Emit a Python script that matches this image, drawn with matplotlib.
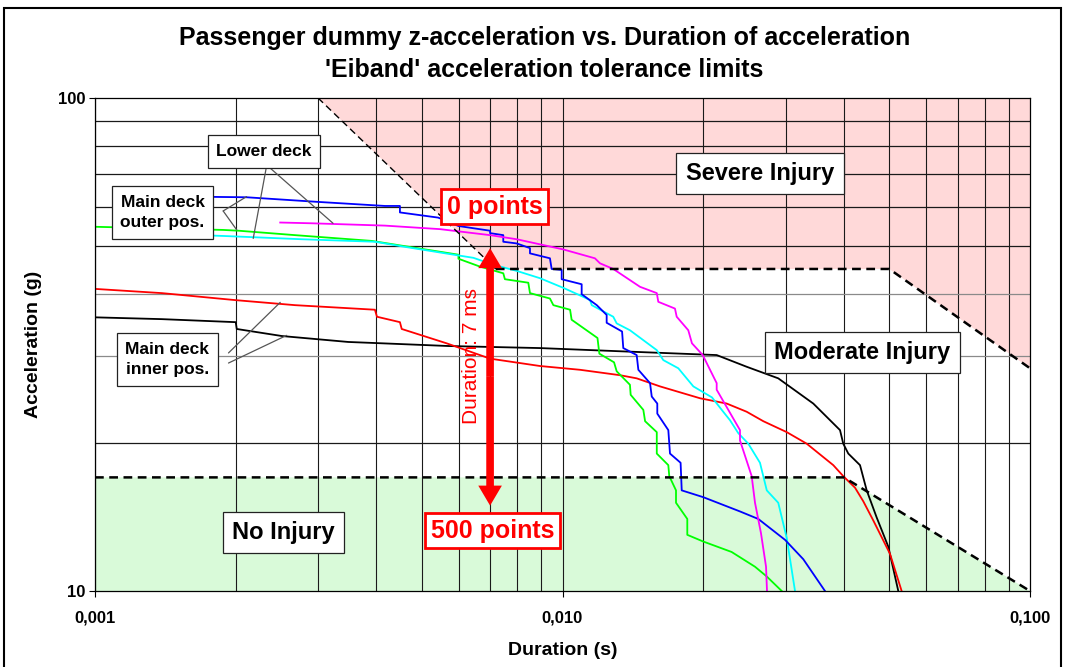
import numpy as np
import matplotlib
matplotlib.use('Agg')
import matplotlib.pyplot as plt
from matplotlib.ticker import NullLocator
from matplotlib.patches import Rectangle

plt.rcParams['font.family'] = ['Liberation Sans', 'DejaVu Sans']

# ---------------- data (duration in ms, acceleration in g) ----------------
blue_ms = [1.15, 2.11, 2.96, 4.17, 4.49, 4.49, 5.42, 5.99, 7.00, 7.00, 7.47, 7.47, 7.98, 8.52, 8.52,
           9.40, 9.48, 9.96, 9.96, 10.99, 10.99, 11.84, 12.43, 12.43, 13.41, 13.49, 14.41, 14.53,
           15.39, 15.52, 15.95, 15.95, 16.84, 16.98, 17.89, 17.99, 20.0, 23.97, 26.23, 29.92, 32.74, 36.43]
blue_g = [63.3, 62.9, 61.6, 60.4, 60.4, 58.6, 57.2, 55.0, 53.8, 53.2, 52.7, 51.1, 50.7, 49.6, 48.4,
          47.3, 45.0, 44.8, 42.9, 41.9, 40.0, 38.0, 36.3, 35.0, 33.6, 31.1, 30.1, 28.1,
          26.4, 24.8, 24.0, 22.9, 21.2, 19.0, 18.2, 16.0, 15.5, 14.5, 14.0, 12.7, 11.6, 10.0]

magenta_ms = [2.49, 2.91, 4.17, 5.47, 7.00, 7.98, 10.04, 11.73, 12.03, 12.84, 14.65, 15.91, 16.03, 17.40,
              17.55, 18.58, 18.92, 19.95, 21.37, 21.37, 22.34, 23.97, 23.97, 25.39, 25.81, 26.58, 27.25, 27.38]
magenta_g = [55.9, 55.7, 55.1, 54.2, 52.7, 51.7, 49.3, 47.3, 46.2, 45.0, 41.4, 40.2, 38.6, 37.4,
             36.0, 33.8, 31.8, 30.1, 26.4, 25.6, 23.8, 21.2, 20.2, 17.1, 15.1, 13.1, 11.2, 10.0]

cyan_ms = [1.5, 1.88, 2.18, 2.77, 3.97, 4.60, 5.47, 6.45, 7.11, 7.98, 8.95, 10.04, 11.08, 11.45, 11.55,
           12.84, 13.06, 13.94, 15.91, 16.43, 17.69, 19.05, 20.88, 21.99, 22.82, 23.77, 24.97, 26.45,
           27.35, 28.94, 30.18, 31.43]
cyan_g = [52.9, 52.5, 52.2, 51.7, 51.1, 49.9, 48.6, 47.4, 45.9, 44.6, 43.1, 41.2, 39.5, 38.9, 38.0,
          36.0, 34.9, 33.8, 30.8, 29.4, 28.3, 26.0, 24.7, 23.2, 22.2, 20.9, 19.9, 18.2,
          16.0, 15.1, 12.8, 10.0]

green_ms = [1.0, 1.88, 2.03, 2.68, 3.91, 5.99, 5.99, 6.66, 7.47, 7.53, 8.45, 8.52, 9.40, 9.56, 10.38,
            10.46, 11.88, 11.99, 12.89, 13.06, 13.94, 13.99, 14.89, 15.02, 15.91, 15.91, 16.84, 16.92,
            17.49, 17.49, 18.49, 18.49, 20.0, 23.0, 25.81, 27.35, 29.44]
green_g = [54.8, 54.0, 53.8, 52.7, 51.3, 48.1, 47.2, 45.5, 44.1, 42.9, 42.2, 40.2, 39.2, 38.0, 37.2,
           35.5, 32.6, 30.3, 29.1, 27.9, 26.2, 25.0, 23.3, 22.1, 21.0, 19.0, 18.0, 17.1,
           16.0, 15.1, 14.0, 13.0, 12.6, 12.0, 11.2, 10.7, 10.0]

red_ms = [1.0, 1.39, 2.0, 2.68, 3.97, 4.01, 4.49, 4.53, 5.65, 7.0, 8.95, 10.90, 13.27, 14.41, 16.17,
          19.69, 22.45, 24.77, 26.89, 30.18, 33.29, 37.95, 39.86, 42.24, 44.0, 46.22, 50.17, 53.14]
red_g = [41.0, 40.2, 38.9, 38.0, 37.2, 36.0, 35.1, 34.0, 31.8, 29.6, 28.6, 28.1, 27.4, 27.0, 26.0,
         24.6, 24.0, 23.1, 22.1, 21.0, 19.9, 18.0, 17.1, 16.2, 15.2, 13.9, 11.9, 10.0]

black_ms = [1.0, 1.39, 2.0, 2.01, 2.51, 3.48, 4.11, 5.70, 8.95, 13.72, 21.37, 24.77, 28.94, 34.39,
            39.23, 39.86, 40.86, 43.29, 44.74, 46.99, 49.76, 52.27]
black_g = [35.9, 35.6, 35.1, 34.0, 32.9, 32.0, 31.8, 31.4, 31.1, 30.6, 30.1, 28.5, 27.0, 24.0,
           21.2, 19.9, 19.0, 18.0, 16.0, 14.1, 12.3, 10.0]

# Eiband tolerance limits (duration s, acceleration g)
severe_x = [0.003, 0.0072, 0.05, 0.1]
severe_y = [100, 45, 45, 28.3]
noinj_x = [0.001, 0.04, 0.1]
noinj_y = [17, 17, 10]

# 7 ms marker
marker_s = 0.007
marker_top_g = 49.6
marker_bot_g = 14.9

x_ticks = [0.001, 0.01, 0.1]
x_ticklabels = ['0,001', '0,010', '0,100']
y_ticks = [10, 100]
y_ticklabels = ['10', '100']

# ---------------- figure ----------------
W, H = 1066, 667
fig = plt.figure(figsize=(W / 100, H / 100), dpi=100)
ax = fig.add_axes([95 / W, 76 / H, 935 / W, 493 / H])
ax.set_xscale('log')
ax.set_yscale('log')
ax.set_xlim(0.001, 0.1)
ax.set_ylim(10, 100)

# zones
ax.fill(severe_x + [0.1], severe_y + [100], color='#FFD9D9', lw=0, zorder=0.2)
ax.fill(noinj_x + [0.1, 0.001], noinj_y + [10, 10], color='#D9FAD9', lw=0, zorder=0.2)

# grid
for dec in [0.001, 0.01]:
    for m in range(1, 10):
        ax.axvline(dec * m, color='#1a1a1a', lw=0.8, zorder=1)
for m in range(2, 10):
    c = '#8a8a8a' if m in (3, 4) else '#1a1a1a'
    ax.axhline(10 * m, color=c, lw=0.9, zorder=1)

# boundaries
ax.plot(severe_x[:2], severe_y[:2], color='black', lw=1.0, dashes=(5, 3), zorder=4)
ax.plot(severe_x[1:], severe_y[1:], color='black', lw=1.8, dashes=(3.5, 2.2), zorder=4)
ax.plot(noinj_x, noinj_y, color='black', lw=1.8, dashes=(3.5, 2.2), zorder=4)

# curves
series = [(black_ms, black_g, 'black'), (red_ms, red_g, '#FF0000'),
          (green_ms, green_g, '#00FF00'), (cyan_ms, cyan_g, '#00FFFF'),
          (blue_ms, blue_g, '#0000FF'), (magenta_ms, magenta_g, '#FF00FF')]
for xs, ys, col in series:
    ax.plot(np.array(xs) / 1000.0, ys, color=col, lw=1.3, zorder=3)

# leader lines (anchor at box -> curve)
leaders = [((0.00233, 73.1), (0.00218, 51.9)), ((0.00233, 73.1), (0.00323, 55.7)),
           ((0.00188, 59.0), (0.00211, 63.1)), ((0.00188, 59.0), (0.00201, 54.0)),
           ((0.00193, 30.4), (0.00249, 38.5)), ((0.00193, 29.0), (0.00257, 33.0))]
for a, b in leaders:
    ax.annotate('', xy=b, xytext=a,
                arrowprops=dict(arrowstyle='-', color='#555555', lw=0.9, shrinkA=0, shrinkB=0),
                zorder=5)

# text boxes
box = dict(boxstyle='square,pad=0.4', fc='white', ec='#222222', lw=0.9)
small_box = dict(boxstyle='square,pad=0.5', fc='white', ec='#222222', lw=0.9)
red_box = dict(boxstyle='square,pad=0.22', fc='white', ec='#FF0000', lw=2.0)

def label(x, y, s, size, bb, color='black', ls=1.2):
    ax.text(x, y, s, transform=ax.transAxes, ha='center', va='center', fontsize=size,
            fontweight='bold', color=color, bbox=bb, zorder=6, linespacing=ls)

label(0.7112, 0.8469, 'Severe Injury', 17, box)
label(0.8209, 0.4838, 'Moderate Injury', 17, box)
label(0.2016, 0.1187, 'No Injury', 17, box)
label(0.1807, 0.8915, 'Lower deck', 12.5, small_box)
label(0.0722, 0.7677, 'Main deck\nouter pos.', 12.5, small_box, ls=1.4)
label(0.0775, 0.4696, 'Main deck\ninner pos.', 12.5, small_box, ls=1.4)
label(0.4273, 0.7799, '0 points', 18, red_box, color='#FF0000')
label(0.4251, 0.1227, '500 points', 18, red_box, color='#FF0000')

# red double arrow
mid_g = np.sqrt(marker_top_g * marker_bot_g)
for tip in (marker_top_g, marker_bot_g):
    ax.annotate('', xy=(marker_s, tip), xytext=(marker_s, mid_g),
                arrowprops=dict(arrowstyle='simple,head_length=1.44,head_width=1.7,tail_width=0.55',
                                mutation_scale=10, color='#FF0000', lw=0, shrinkA=0, shrinkB=0),
                zorder=5)
ax.text(0.4029, 0.4757, 'Duration: 7 ms', transform=ax.transAxes, rotation=90, ha='center',
        va='center', fontsize=15, color='#FF0000', zorder=6)

# axes, ticks
ax.xaxis.set_minor_locator(NullLocator())
ax.yaxis.set_minor_locator(NullLocator())
ax.set_xticks(x_ticks)
ax.set_xticklabels(x_ticklabels)
ax.set_yticks(y_ticks)
ax.set_yticklabels(y_ticklabels)
ax.tick_params(direction='out', length=4, width=0.8, labelsize=12, colors='black')
ax.tick_params(axis='x', pad=10)
ax.tick_params(axis='y', pad=3)
for lbl in ax.get_xticklabels() + ax.get_yticklabels():
    lbl.set_fontweight('bold')
for sp in ax.spines.values():
    sp.set_linewidth(0.9)
    sp.set_color('black')
    sp.set_zorder(4)

ax.set_xlabel('Duration (s)', fontsize=14, fontweight='bold')
ax.set_ylabel('Acceleration (g)', fontsize=14, fontweight='bold')
ax.xaxis.label.set_verticalalignment('center')
ax.yaxis.label.set_verticalalignment('center')
ax.xaxis.set_label_coords(0.5, -0.1197)
ax.yaxis.set_label_coords(-0.0663, 0.5)

fig.text(544.5 / W, 1 - 54 / H,
         "Passenger dummy z-acceleration vs. Duration of acceleration\n'Eiband' acceleration tolerance limits",
         ha='center', va='center', fontsize=18, fontweight='bold', linespacing=1.4)

fig.add_artist(Rectangle((4 / W, -0.02), 1057 / W, 659 / H + 0.02, transform=fig.transFigure,
                         fill=False, ec='black', lw=1.5))

fig.savefig('out.png', dpi=100)
